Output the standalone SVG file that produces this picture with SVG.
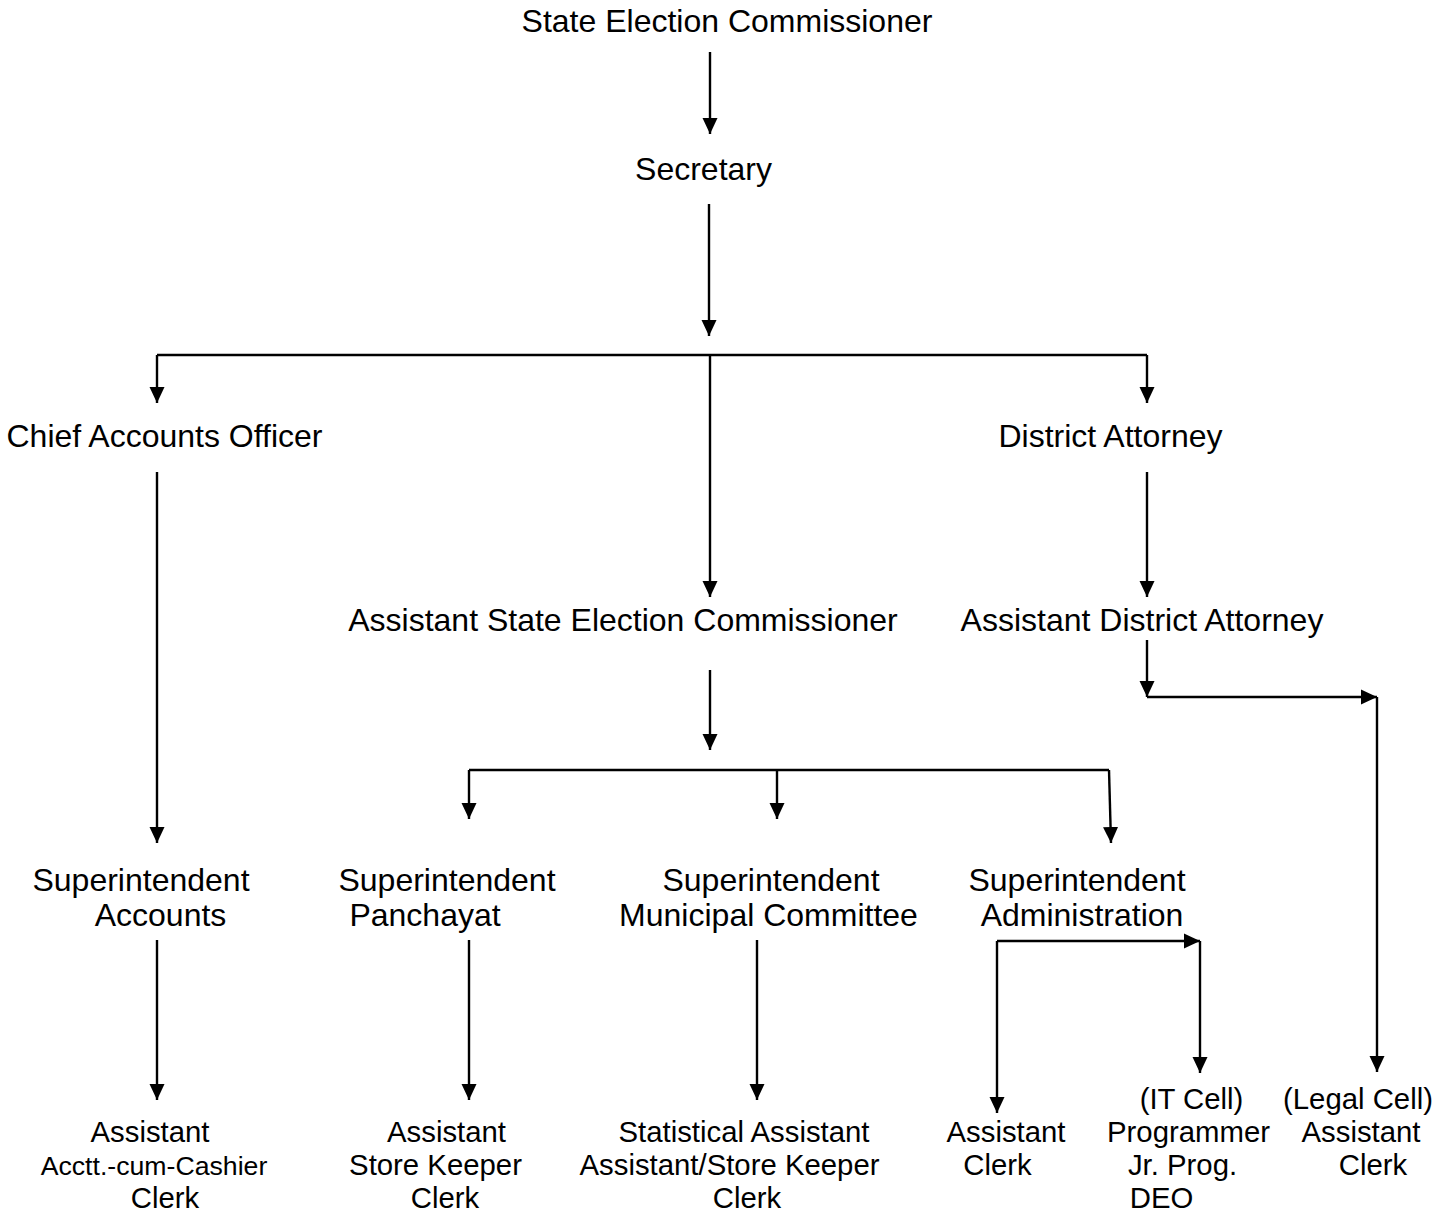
<svg xmlns="http://www.w3.org/2000/svg" width="1451" height="1218" viewBox="0 0 1451 1218">
<style>
text{font-family:"Liberation Sans",Arial,sans-serif;font-size:32px;fill:#000;text-anchor:middle}
.b{font-size:29.33px}
.s{font-size:26.67px}
.c line,.c path{stroke:#000;stroke-width:2.4;fill:none}
.a{marker-end:url(#ah)}
</style>
<defs>
<marker id="ah" markerUnits="userSpaceOnUse" markerWidth="16" markerHeight="16" refX="16" refY="7.5" orient="auto" viewBox="0 0 16 15">
<path d="M0,0 L16,7.5 L0,15 z" fill="#000"/>
</marker>
</defs>
<rect width="1451" height="1218" fill="#fff"/>
<g id="connectors" class="c">
<line class="a" x1="710" y1="52" x2="710" y2="134"/>
<line class="a" x1="709" y1="204" x2="709" y2="336"/>
<line x1="157" y1="355" x2="1147" y2="355"/>
<line class="a" x1="157" y1="355" x2="157" y2="403"/>
<line class="a" x1="1147" y1="355" x2="1147" y2="403"/>
<line class="a" x1="710" y1="355" x2="710" y2="597"/>
<line class="a" x1="157" y1="472" x2="157" y2="843"/>
<line class="a" x1="1147" y1="472" x2="1147" y2="597"/>
<line class="a" x1="1147" y1="640" x2="1147" y2="697"/>
<line class="a" x1="1147" y1="697" x2="1377" y2="697"/>
<line class="a" x1="1377" y1="697" x2="1377" y2="1072"/>
<line class="a" x1="710" y1="670" x2="710" y2="750"/>
<line x1="469" y1="770" x2="1109" y2="770"/>
<line class="a" x1="469" y1="770" x2="469" y2="819"/>
<line class="a" x1="777" y1="770" x2="777" y2="819"/>
<line class="a" x1="1109" y1="770" x2="1111" y2="843"/>
<line class="a" x1="157" y1="940" x2="157" y2="1100"/>
<line class="a" x1="469" y1="940" x2="469" y2="1100"/>
<line class="a" x1="757" y1="940" x2="757" y2="1100"/>
<line class="a" x1="997" y1="941" x2="997" y2="1113"/>
<line class="a" x1="997" y1="941" x2="1200" y2="941"/>
<line class="a" x1="1200" y1="941" x2="1200" y2="1073"/>
</g>
<g id="n-sec-commissioner"><text x="727" y="32">State Election Commissioner</text></g>
<g id="n-secretary"><text x="703.5" y="180">Secretary</text></g>
<g id="n-cao"><text x="164.5" y="447">Chief Accounts Officer</text></g>
<g id="n-da"><text x="1110.5" y="447">District Attorney</text></g>
<g id="n-asec"><text x="623" y="631">Assistant State Election Commissioner</text></g>
<g id="n-ada"><text x="1142" y="631">Assistant District Attorney</text></g>
<g id="n-supt-acc"><text x="141" y="891">Superintendent</text><text x="160.5" y="926">Accounts</text></g>
<g id="n-supt-pan"><text x="447" y="891">Superintendent</text><text x="425" y="926">Panchayat</text></g>
<g id="n-supt-mun"><text x="771" y="891">Superintendent</text><text x="768.5" y="926">Municipal Committee</text></g>
<g id="n-supt-adm"><text x="1077" y="891">Superintendent</text><text x="1082" y="926">Administration</text></g>
<g id="n-acc-staff" class="b"><text class="b" x="150" y="1142">Assistant</text><text class="s" x="154" y="1175">Acctt.-cum-Cashier</text><text class="b" x="165" y="1208">Clerk</text></g>
<g id="n-pan-staff"><text class="b" x="446.5" y="1142">Assistant</text><text class="b" x="435.5" y="1175">Store Keeper</text><text class="b" x="445" y="1208">Clerk</text></g>
<g id="n-mun-staff"><text class="b" x="744" y="1142">Statistical Assistant</text><text class="b" x="729.5" y="1175">Assistant/Store Keeper</text><text class="b" x="747" y="1208">Clerk</text></g>
<g id="n-adm-staff"><text class="b" x="1006" y="1142">Assistant</text><text class="b" x="997.5" y="1175">Clerk</text></g>
<g id="n-it-cell"><text class="b" x="1191.5" y="1109">(IT Cell)</text><text class="b" x="1188.5" y="1142">Programmer</text><text class="b" x="1182.5" y="1175">Jr. Prog.</text><text class="b" x="1161.5" y="1208">DEO</text></g>
<g id="n-legal-cell"><text class="b" x="1358" y="1109">(Legal Cell)</text><text class="b" x="1361" y="1142">Assistant</text><text class="b" x="1373" y="1175">Clerk</text></g>
</svg>
